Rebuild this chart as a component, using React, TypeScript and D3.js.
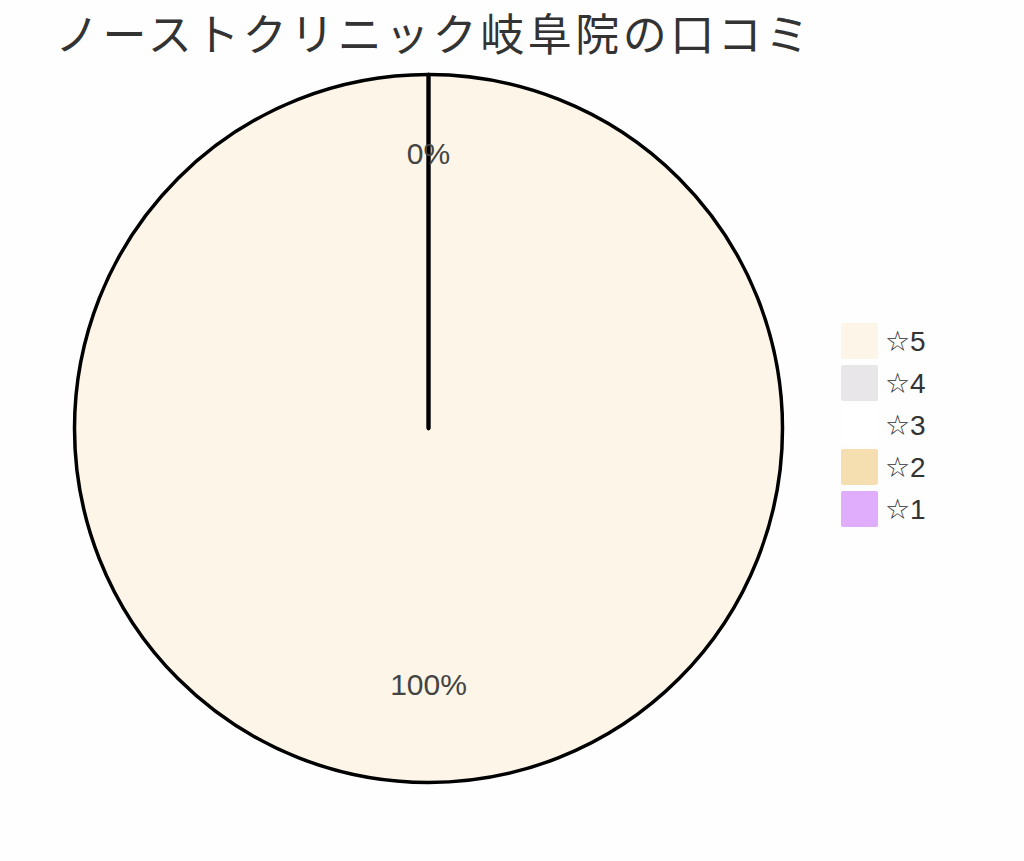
import React, { useEffect, useRef } from 'react';
import * as d3 from 'd3';

const title = 'ノーストクリニック岐阜院の口コミ';
const categories = ['☆5', '☆4', '☆3', '☆2', '☆1'];
const values = [100, 0, 0, 0, 0];
const colors = ['#fdf5e8', '#e8e6e8', '#ffffff', '#f5deb0', '#e0acfc'];

const W = 1024;
const H = 861;

const App: React.FC = () => {
  const svgRef = useRef<SVGSVGElement>(null);

  useEffect(() => {
    if (!svgRef.current) return;
    const svg = d3.select(svgRef.current);
    svg.selectAll('*').remove();

    const cx = 428.5;
    const cy = 428.5;
    const R = 354;
    const total = d3.sum(values);

    svg.append('rect').attr('width', W).attr('height', H).attr('fill', '#fefefe');

    const pie = d3.pie<number>().sort(null).startAngle(0).endAngle(2 * Math.PI);
    const arcs = pie(values);

    const arc = d3.arc<d3.PieArcDatum<number>>().innerRadius(0).outerRadius(R);
    const labelArc = d3.arc<d3.PieArcDatum<number>>().innerRadius(R * 0.75).outerRadius(R * 0.75);

    const g = svg.append('g').attr('transform', `translate(${cx},${cy})`);

    g.selectAll('path.slice')
      .data(arcs)
      .join('path')
      .attr('class', 'slice')
      .attr('d', arc)
      .attr('fill', (_, i) => colors[i])
      .attr('stroke', '#000')
      .attr('stroke-width', 3.5)
      .attr('stroke-linejoin', 'round');

    // percent labels (labels sitting on the same spot are drawn once)
    const seen = new Set<string>();
    const labelData = arcs.filter(d => {
      const [x, y] = labelArc.centroid(d);
      const key = `${Math.round(x)},${Math.round(y)}`;
      if (seen.has(key)) return false;
      seen.add(key);
      return true;
    });

    g.selectAll('text.pct')
      .data(labelData)
      .join('text')
      .attr('class', 'pct')
      .attr('x', d => labelArc.centroid(d)[0])
      .attr('y', d => labelArc.centroid(d)[1] - 10)
      .attr('text-anchor', 'middle')
      .attr('dominant-baseline', 'central')
      .attr('fill', '#444')
      .style('font-family', '"Liberation Sans", Arial, sans-serif')
      .style('font-size', '30px')
      .text(d => `${Math.round((d.data / total) * 100)}%`);

    // title
    svg.append('text')
      .attr('x', 55)
      .attr('y', 32)
      .attr('dominant-baseline', 'central')
      .attr('fill', '#333')
      .style('font-family', '"Noto Sans CJK JP", sans-serif')
      .style('font-size', '44px')
      .style('letter-spacing', '3.5px')
      .text(title);

    // legend
    const legendY = d3.scaleBand<string>()
      .domain(categories)
      .range([320, 530])
      .paddingInner(0);

    const lg = svg.append('g');
    const rows = lg.selectAll('g.row')
      .data(categories)
      .join('g')
      .attr('class', 'row')
      .attr('transform', c => `translate(841,${legendY(c)})`);

    rows.append('rect')
      .attr('y', 3)
      .attr('width', 37)
      .attr('height', 36)
      .attr('rx', 2)
      .attr('fill', (_, i) => colors[i]);

    rows.append('text')
      .attr('x', 44)
      .attr('y', 21)
      .attr('dominant-baseline', 'central')
      .attr('fill', '#333')
      .style('font-family', '"Liberation Sans", Arial, "DejaVu Sans", sans-serif')
      .style('font-size', '28px')
      .text(c => c);
  }, []);

  return (
    <svg
      ref={svgRef}
      width={W}
      height={H}
      style={{ position: 'absolute', left: 0, top: 0 }}
    />
  );
};

export default App;
